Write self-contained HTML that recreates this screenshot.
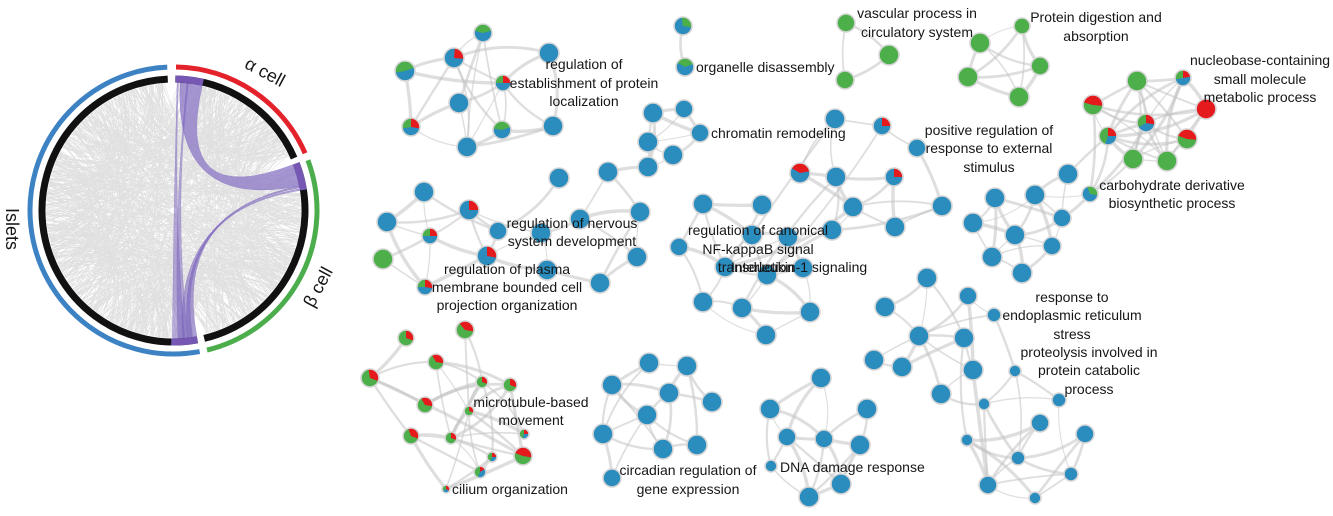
<!DOCTYPE html>
<html><head><meta charset="utf-8">
<style>
html,body{margin:0;padding:0;background:#fff;width:1333px;height:516px;overflow:hidden}
svg{display:block}
text{font-family:"Liberation Sans",Arial,sans-serif;font-size:14px;fill:#161616}
</style></head>
<body>
<svg id="s" width="1333" height="516" viewBox="0 0 1333 516" xmlns="http://www.w3.org/2000/svg">
<rect width="1333" height="516" fill="#fff"/>
<g id="chords"></g>
<g id="ribbons"></g>
<g id="rings"></g>
<g id="edges"></g>
<g id="nodes"></g>
<g id="labels">
  <text transform="translate(12,229) rotate(90)" text-anchor="middle" y="6" style="font-size:18px">Islets</text>
  <text transform="translate(265,72) rotate(28)" text-anchor="middle" y="6" style="font-size:18px">α cell</text>
  <text transform="translate(318,287) rotate(-62)" text-anchor="middle" y="6" style="font-size:18px">β cell</text>

  <text x="584" y="69" text-anchor="middle">regulation of</text>
  <text x="584" y="88" text-anchor="middle">establishment of protein</text>
  <text x="584" y="106" text-anchor="middle">localization</text>

  <text x="696" y="72">organelle disassembly</text>

  <text x="917" y="18" text-anchor="middle">vascular process in</text>
  <text x="917" y="37" text-anchor="middle">circulatory system</text>

  <text x="1096" y="22" text-anchor="middle">Protein digestion and</text>
  <text x="1096" y="41" text-anchor="middle">absorption</text>

  <text x="1260" y="65" text-anchor="middle">nucleobase-containing</text>
  <text x="1260" y="84" text-anchor="middle">small molecule</text>
  <text x="1260" y="102" text-anchor="middle">metabolic process</text>

  <text x="989" y="135" text-anchor="middle">positive regulation of</text>
  <text x="989" y="153" text-anchor="middle">response to external</text>
  <text x="989" y="172" text-anchor="middle">stimulus</text>

  <text x="711" y="138">chromatin remodeling</text>

  <text x="1172" y="190" text-anchor="middle">carbohydrate derivative</text>
  <text x="1172" y="208" text-anchor="middle">biosynthetic process</text>

  <text x="572" y="228" text-anchor="middle">regulation of nervous</text>
  <text x="572" y="246" text-anchor="middle">system development</text>

  <text x="758" y="235" text-anchor="middle">regulation of canonical</text>
  <text x="758" y="254" text-anchor="middle">NF-kappaB signal</text>
  <text x="756" y="272" text-anchor="middle">transduction</text>
  <text x="731" y="272">Interleukin-1 signaling</text>

  <text x="507" y="274" text-anchor="middle">regulation of plasma</text>
  <text x="507" y="292" text-anchor="middle">membrane bounded cell</text>
  <text x="507" y="310" text-anchor="middle">projection organization</text>

  <text x="531" y="407" text-anchor="middle">microtubule-based</text>
  <text x="531" y="425" text-anchor="middle">movement</text>

  <text x="452" y="494">cilium organization</text>

  <text x="688" y="475" text-anchor="middle">circadian regulation of</text>
  <text x="688" y="494" text-anchor="middle">gene expression</text>

  <text x="780" y="472">DNA damage response</text>

  <text x="1072" y="302" text-anchor="middle">response to</text>
  <text x="1072" y="320" text-anchor="middle">endoplasmic reticulum</text>
  <text x="1072" y="339" text-anchor="middle">stress</text>

  <text x="1089" y="357" text-anchor="middle">proteolysis involved in</text>
  <text x="1089" y="375" text-anchor="middle">protein catabolic</text>
  <text x="1089" y="394" text-anchor="middle">process</text>
</g>
</svg>
<script>
(function(){
const NS='http://www.w3.org/2000/svg';
let seed=12345;
function rnd(){seed=(seed*16807)%2147483647;return (seed-1)/2147483646;}
function el(t,a,p){const e=document.createElementNS(NS,t);for(const k in a)e.setAttribute(k,a[k]);p.appendChild(e);return e;}
function f(v){return v.toFixed(2);}
const CX=173.5,CY=210.5;
function P(cx,cy,deg,r){const a=(deg-90)*Math.PI/180;return [cx+r*Math.cos(a),cy+r*Math.sin(a)];}
function arcPath(d0,d1,r){const a=P(CX,CY,d0,r),b=P(CX,CY,d1,r);return 'M'+f(a[0])+','+f(a[1])+'A'+r+','+r+' 0 '+((d1-d0)>180?1:0)+' 1 '+f(b[0])+','+f(b[1]);}

/* chords */
const gC=document.getElementById('chords');
const ranges=[[171,356],[2,65],[70,165]];
const tot=ranges.reduce((s,r)=>s+r[1]-r[0],0);
function randAng(){let x=rnd()*tot;for(const r of ranges){const L=r[1]-r[0];if(x<L)return r[0]+x;x-=L;}return 200;}
let d='';
for(let i=0;i<900;i++){
  const a=randAng();let b=randAng();
  let diff=Math.abs(a-b);if(diff>180)diff=360-diff;
  if(diff<12){continue;}
  const A=P(CX,CY,a,127.5),B=P(CX,CY,b,127.5);
  const k=0.25+rnd()*0.25;
  const mx=(A[0]+B[0])/2,my=(A[1]+B[1])/2;
  const cx=CX+(mx-CX)*k,cy=CY+(my-CY)*k;
  d+='M'+f(A[0])+','+f(A[1])+'Q'+f(cx)+','+f(cy)+' '+f(B[0])+','+f(B[1]);
}
el('path',{d:d,fill:'none',stroke:'#b4b4b4','stroke-width':'0.55','stroke-opacity':'0.42'},gC);
el('circle',{cx:CX,cy:CY,r:3.2,fill:'#fff'},gC);

/* ribbons */
const gR=document.getElementById('ribbons');
function ribbon(a0,a1,b0,b1,r,fill,op){
  const A0=P(CX,CY,a0,r),A1=P(CX,CY,a1,r),B0=P(CX,CY,b0,r),B1=P(CX,CY,b1,r);
  const c=f(CX)+','+f(CY);
  const dd='M'+f(A0[0])+','+f(A0[1])+'A'+r+','+r+' 0 0 1 '+f(A1[0])+','+f(A1[1])+
    'Q'+c+' '+f(B0[0])+','+f(B0[1])+'A'+r+','+r+' 0 0 1 '+f(B1[0])+','+f(B1[1])+
    'Q'+c+' '+f(A0[0])+','+f(A0[1])+'Z';
  el('path',{d:dd,fill:fill,'fill-opacity':op,stroke:fill,'stroke-opacity':op,'stroke-width':'0.5'},gR);
}
ribbon(3,13,69,79,128,'#8670c4',0.72);
ribbon(1.6,2.2,175,180.5,128,'#7a62bb',0.5);
ribbon(6,6.6,173.5,178,128,'#7a62bb',0.5);
ribbon(79,79.8,169.5,173.5,128,'#7a62bb',0.6);
ribbon(80.3,81,171.5,176,128,'#7a62bb',0.55);

/* rings */
const gRing=document.getElementById('rings');
function ring(d0,d1,r,w,col){el('path',{d:arcPath(d0,d1,r),fill:'none',stroke:col,'stroke-width':w},gRing);}
ring(169.5,357.5,143.5,5,'#3d82c3');
ring(1,66.5,143.5,5,'#e3222b');
ring(69.5,166.5,143.5,5,'#4cad4c');
ring(169.5,357.5,131.5,7,'#111');
ring(0.8,66.5,131.5,7,'#111');
ring(69,166.5,131.5,7,'#111');
ring(169.5,181,131.5,7,'#7658b4');
ring(0.8,13,131.5,7,'#7658b4');
ring(69,81,131.5,7,'#7658b4');

/* network */
const COL={b:'#2b8cbe',g:'#4daf4a',r:'#e41a1c'};
const A=[[483,33,9,'b',[['g',-75,75]]],[454,58,10,'b',[['r',5,95]]],[405,71,10,'b',[['g',-100,70]]],[503,83,8,'b',[['g',-90,0],['r',0,90]]],[459,103,10,'b'],[411,127,9,'b',[['g',-100,0],['r',0,100]]],[502,130,9,'b',[['g',-80,70]]],[467,147,10,'b'],[549,53,10,'b'],[553,126,10,'b']];
const Bn=[[683,26,9,'b',[['g',-10,100]]],[685,67,9,'b',[['g',-60,70]]]];
const C=[[846,23,9,'g'],[889,55,10,'g'],[845,80,9,'g']];
const D=[[1022,26,8,'g'],[980,43,10,'g'],[1040,66,9,'g'],[968,77,10,'g'],[1019,97,10,'g']];
const E1=[[1137,81,10,'g'],[1183,78,8,'b',[['r',0,80],['g',260,360]]],[1093,105,10,'g',[['r',-75,95]]],[1206,109,10,'r'],[1146,123,9,'b',[['r',0,100],['g',240,360]]],[1108,136,9,'b',[['r',0,90],['g',200,360]]],[1187,139,10,'g',[['r',-70,95]]],[1133,159,10,'g'],[1167,161,10,'g']];
const E2=[[1090,194,8,'b',[['g',-20,100]]],[1068,174,10,'b'],[1035,195,10,'b'],[995,198,10,'b'],[1062,218,9,'b'],[973,223,10,'b'],[1015,235,10,'b'],[1052,246,9,'b'],[992,257,10,'b'],[1022,273,10,'b']];
const F1=[[653,113,10,'b'],[684,109,9,'b'],[700,133,9,'b'],[648,142,10,'b'],[673,155,10,'b'],[648,167,10,'b']];
const F2=[[424,192,10,'b'],[387,222,10,'b'],[469,210,10,'b',[['r',0,90]]],[430,236,8,'b',[['g',-90,0],['r',0,90]]],[498,231,9,'b'],[383,259,10,'g'],[487,256,10,'b',[['r',0,100]]],[425,287,8,'b',[['g',-90,0],['r',0,100]]],[559,178,10,'b'],[608,172,10,'b'],[580,219,10,'b'],[541,233,10,'b'],[640,212,10,'b'],[547,270,10,'b'],[637,257,10,'b'],[600,283,10,'b']];
const G1=[[835,119,10,'b'],[882,126,9,'b',[['r',0,90]]],[917,148,9,'b'],[800,173,10,'b',[['r',-60,80]]],[836,177,10,'b'],[894,177,9,'b',[['r',0,90]]],[853,207,10,'b'],[942,206,10,'b'],[895,227,10,'b'],[832,230,10,'b']];
const G2=[[703,204,10,'b'],[762,205,10,'b'],[679,247,9,'b'],[752,235,10,'b'],[788,237,10,'b'],[725,267,10,'b'],[767,275,10,'b'],[803,268,10,'b'],[703,302,10,'b'],[742,308,10,'b'],[810,312,10,'b'],[766,335,10,'b']];
const H=[[406,338,8,'g',[['r',0,110]]],[465,330,9,'g',[['r',-40,100]]],[436,362,8,'g',[['r',-30,100]]],[370,378,9,'g',[['r',-10,110]]],[482,382,6,'g',[['r',0,110]]],[510,385,7,'g',[['r',0,110]]],[425,405,8,'g',[['r',-30,100]]],[469,411,5,'g',[['r',0,110]]],[411,436,8,'g',[['r',-20,110]]],[451,438,6,'g',[['r',0,110]]],[524,434,5,'g',[['r',0,90],['b',90,200]]],[523,456,9,'g',[['r',-70,100]]],[492,457,5,'g',[['r',0,90],['b',90,200]]],[480,472,6,'g',[['r',0,60],['b',60,200]]],[446,489,4,'g',[['r',0,120],['b',120,240]]]];
const I=[[649,363,10,'b'],[687,366,10,'b'],[612,385,10,'b'],[669,393,10,'b'],[712,402,10,'b'],[647,415,10,'b'],[603,434,10,'b'],[663,449,10,'b'],[697,445,10,'b'],[612,478,9,'b']];
const J=[[821,378,10,'b'],[770,409,10,'b'],[867,409,10,'b'],[787,437,9,'b'],[824,439,9,'b'],[860,445,10,'b'],[771,466,6,'b'],[841,484,10,'b'],[809,497,10,'b']];
const K1=[[927,278,10,'b'],[968,296,9,'b'],[885,307,10,'b'],[994,315,7,'b'],[919,336,10,'b'],[964,338,10,'b'],[874,360,10,'b'],[902,367,10,'b'],[973,370,10,'b'],[941,394,10,'b']];
const K2=[[1015,371,6,'b'],[984,404,6,'b'],[1059,400,7,'b'],[1040,423,9,'b'],[967,440,6,'b'],[1085,434,9,'b'],[1018,458,7,'b'],[1071,474,7,'b'],[988,485,9,'b'],[1035,498,6,'b']];

const groups=[[A,100,0.7],[Bn,60,1],[C,70,1],[D,80,1],[E1,120,0.9],[E2,70,0.85],[F1,60,0.9],[F2,85,0.7],[G1,80,0.75],[G2,75,0.8],[H,90,0.6],[I,85,0.75],[J,75,0.8],[K1,80,0.75],[K2,90,0.7]];
const extra=[[1090,194,1093,105],[1090,194,1108,136],[1090,194,1133,159],[1090,194,1146,123],[1068,174,1108,136],[608,172,648,167],[832,230,767,275],[836,177,742,308],[853,207,725,267],[882,126,767,275],[835,119,752,235],[994,315,1015,371],[941,394,984,404],[973,370,988,485],[964,338,967,440],[483,33,467,147],[370,378,523,456],[917,148,942,206],[895,227,942,206],[853,207,942,206],[832,230,942,206]];

const gE=document.getElementById('edges');
function edge(x1,y1,x2,y2){
  const dx=x2-x1,dy=y2-y1,L=Math.hypot(dx,dy);
  const o=(rnd()-0.5)*0.35*L;
  const cx=(x1+x2)/2-dy/L*o,cy=(y1+y2)/2+dx/L*o;
  const w=1+rnd()*2.6;
  el('path',{d:'M'+x1+','+y1+'Q'+f(cx)+','+f(cy)+' '+x2+','+y2,fill:'none',stroke:'#c2c2c2','stroke-opacity':'0.55','stroke-width':f(w),'stroke-linecap':'round'},gE);
}
for(const [n,t,p] of groups){
  for(let i=0;i<n.length;i++)for(let j=i+1;j<n.length;j++){
    const dd=Math.hypot(n[i][0]-n[j][0],n[i][1]-n[j][1]);
    if(dd<t && rnd()<p) edge(n[i][0],n[i][1],n[j][0],n[j][1]);
  }
}
for(const e of extra) edge(e[0],e[1],e[2],e[3]);

const gN=document.getElementById('nodes');
function node(nd){
  const [x,y,r,base,w]=nd;
  el('circle',{cx:x,cy:y,r:r,fill:COL[base]},gN);
  if(w){for(const [c,a0,a1] of w){
    const p0=P(x,y,a0,r),p1=P(x,y,a1,r);
    el('path',{d:'M'+x+','+y+'L'+f(p0[0])+','+f(p0[1])+'A'+r+','+r+' 0 '+((a1-a0)>180?1:0)+' 1 '+f(p1[0])+','+f(p1[1])+'Z',fill:COL[c]},gN);
  }}
  el('circle',{cx:x,cy:y,r:r,fill:'none',stroke:'#d6d6d6','stroke-width':'1.6'},gN);
}
for(const [n] of groups) for(const nd of n) node(nd);
})();
</script>
</body></html>
